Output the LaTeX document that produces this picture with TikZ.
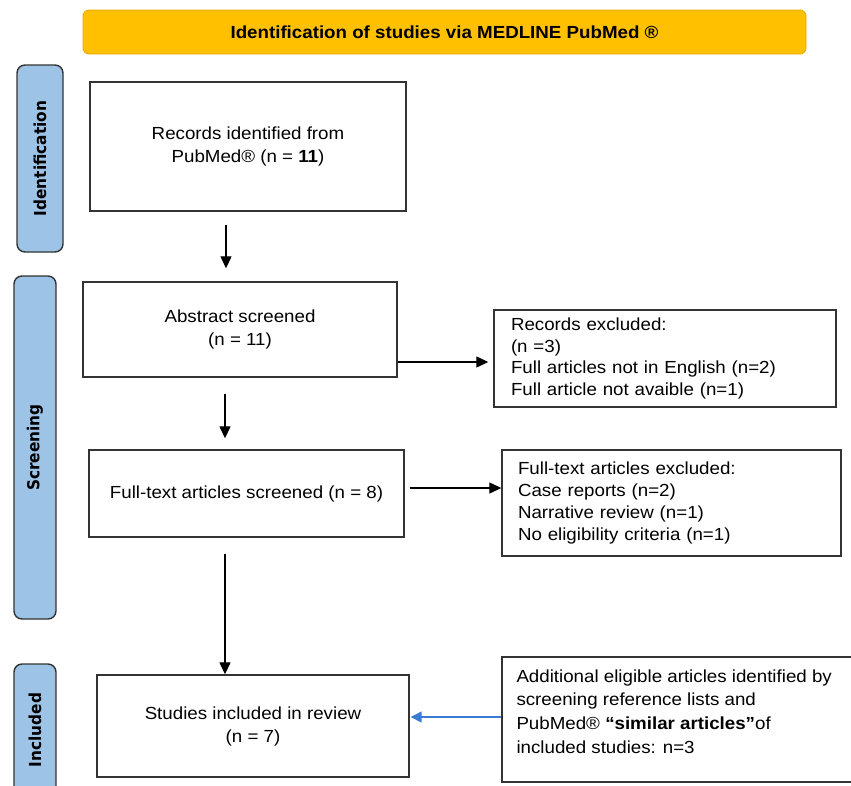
\documentclass[tikz,border=0pt]{standalone}
\usepackage{fontspec}
\setmainfont[FakeStretch=1.07]{Liberation Sans}
\newfontfamily\sidefont[FakeStretch=0.93]{DejaVu Sans}
\usetikzlibrary{arrows.meta,calc}
\definecolor{sideblue}{HTML}{9DC3E6}
\definecolor{bannerfill}{HTML}{FFC000}
\definecolor{bannerdraw}{HTML}{E0A800}
\definecolor{arrowblue}{HTML}{3A7BD5}
\definecolor{boxline}{HTML}{333333}
\begin{document}
\begin{tikzpicture}[x=1pt,y=-1pt,
  box/.style={draw=boxline,line width=1.4pt,fill=white,inner sep=0pt,align=center,
    font=\fontsize{17.5}{23}\selectfont},
  lbox/.style={box,align=left},
  side/.style={draw=boxline,fill=sideblue,rounded corners=8pt,line width=1.4pt,
    rotate=90,inner sep=0pt,font=\sidefont\bfseries\fontsize{16.5}{18}\selectfont},
  banner/.style={draw=bannerdraw,fill=bannerfill,rounded corners=6pt,line width=0.8pt,
    inner sep=0pt,font=\bfseries\fontsize{17.5}{20}\selectfont},
  arr/.style={line width=1.3pt,-{Triangle[length=12pt,width=11pt]}},
  barr/.style={line width=1.5pt,draw=arrowblue,-{Triangle[length=11pt,width=11pt]}},
]
\useasboundingbox (0,0) rectangle (851,785);
\clip (0,0) rectangle (851,785);

% banner
\node[banner,minimum width=723,minimum height=44] (title) at (444.5,32)
  {Identification of studies via MEDLINE PubMed ®};

% side bars
\node[side,minimum width=187,minimum height=46] (sid) at (40,158.5) {Identification};
\node[side,minimum width=343,minimum height=42] (sscr) at (35,447.5) {Screening};
\node[side,minimum width=132,minimum height=42] (sinc) at (35,730) {Included};

% main boxes
\node[box,minimum width=316,minimum height=129] (rec) at (248,146.5)
  {Records identified from\\PubMed® (n = \textbf{11})};
\node[box,minimum width=314,minimum height=95] (abs) at (240,329.5)
  {Abstract screened\\(n = 11)};
\node[box,minimum width=315,minimum height=87] (ft) at (246.5,493.5)
  {Full-text articles screened (n = 8)};
\node[box,minimum width=312,minimum height=102] (inc) at (253,726)
  {Studies included in review\\(n = 7)};

% side boxes
\node[lbox,minimum width=342,minimum height=97,text width=308,
  font=\fontsize{17.5}{21.7}\selectfont] (exc1) at (665,358.5)
  {Records excluded:\\(n =3)\\Full articles not in English (n=2)\\Full article not avaible (n=1)};
\node[lbox,minimum width=339,minimum height=106,text width=307,
  font=\fontsize{17.5}{21.7}\selectfont] (exc2) at (671.5,503)
  {Full-text articles excluded:\\Case reports (n=2)\\Narrative review (n=1)\\No eligibility criteria (n=1)};
\node[box,minimum width=352,minimum height=125] (add) at (678,719.5) {};
\node[anchor=west,align=left,inner sep=0pt,font=\fontsize{17.5}{23.7}\selectfont] (addt)
  at ($(add.west)+(15,-8)$)
  {Additional eligible articles identified by\\screening reference lists and\\PubMed® \textbf{“similar articles”}of\\included studies: n=3};

% connectors
\draw[arr] ($(rec.south)+(-22,13)$) -- ($(abs.north)+(-14,-13)$);
\draw[arr] ($(abs.south)+(-15,16)$) -- ($(ft.north)+(-21.5,-11)$);
\draw[arr] ($(ft.south)+(-21.5,16)$) -- ($(inc.north)+(-28,0)$);
\draw[arr] ($(abs.east)+(0,32.5)$) -- ($(exc1.west)+(-5,3.5)$);
\draw[arr] ($(ft.east)+(5,-5.5)$) -- ($(exc2.west)+(0,-15)$);
\draw[barr] ($(add.west)+(0,-2.5)$) -- ($(inc.east)+(1,-9)$);
\end{tikzpicture}
\end{document}
